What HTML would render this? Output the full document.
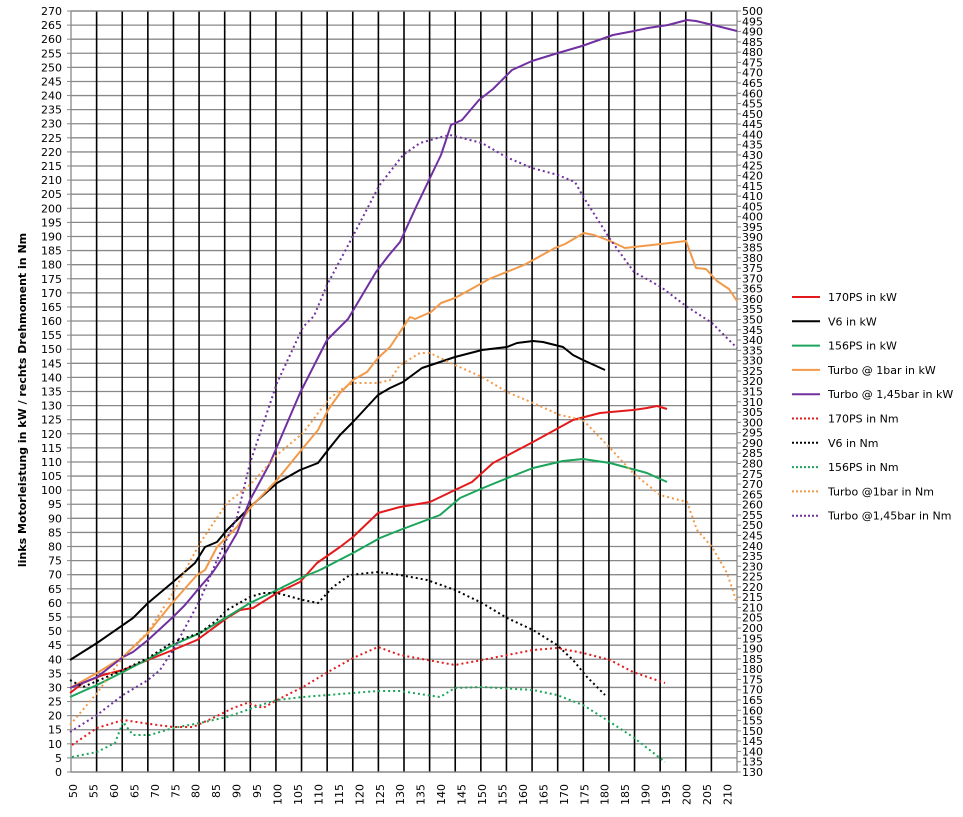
<!DOCTYPE html>
<html><head><meta charset="utf-8"><style>
html,body{margin:0;padding:0;background:#fff;}
svg text{font-family:"DejaVu Sans","Liberation Sans",sans-serif;}
</style></head><body>
<svg id="c" width="963" height="812" xmlns="http://www.w3.org/2000/svg">
<g id="grid"></g>
<g fill="none" stroke-width="2" stroke-linejoin="round">
<polyline stroke="#000" points="70,660 97,643 133,618 148,603 173,582 195,563 205,547 217,542 227,530 250,507 277,483 300,470 318,463 328,450 340,435 353,422 378,395 390,388 403,382 422,368 455,357 482,350 507,347 517,343 533,341 543,342 563,347 573,355 583,360 605,370"/>
<polyline stroke="#e31a1c" points="70,693 83,683 103,675 123,670 148,660 173,650 197,640 227,618 240,610 253,608 277,593 300,582 317,563 340,547 353,537 378,513 400,507 430,502 455,490 472,482 493,463 533,442 573,420 600,413 633,410 647,408 657,406 667,409"/>
<polyline stroke="#1aa55a" points="70,697 97,685 123,672 150,658 173,645 200,633 227,617 250,603 277,590 303,577 320,570 353,553 380,538 400,530 440,515 460,498 483,488 510,477 533,468 563,461 583,459 610,463 647,473 667,482"/>
<polyline stroke="#f29a4a" points="70,688 97,673 123,657 148,633 173,602 197,575 205,570 217,547 237,527 250,508 277,480 303,448 318,430 328,410 340,393 353,380 367,372 378,358 390,347 410,317 415,319 431,312 441,303 455,298 475,287 489,279 524,265 544,254 555,248 565,244 584,233 594,235 610,241 625,248 661,244 686,241 696,268 706,269 717,281 729,289 737,301"/>
<polyline stroke="#7030a0" points="70,688 97,677 123,657 133,652 148,640 173,617 185,605 200,587 213,572 223,557 237,533 250,500 270,463 300,393 327,340 348,319 376,272 389,255 400,242 417,205 429,180 441,155 451,125 462,120 479,100 493,89 512,70 532,61 558,53 582,46 613,35 634,31 648,28 668,25 687,20 696,21 713,25 737,31"/>
</g>
<g fill="none" stroke-width="2" stroke-dasharray="2,3">
<polyline stroke="#7030a0" points="70,732 97,715 123,695 148,680 160,670 173,650 200,600 217,560 237,517 250,463 277,383 303,327 314,316 327,285 353,236 379,186 403,155 420,143 441,137 450,135 482,143 506,157 532,168 558,175 575,182 584,198 610,239 634,272 661,287 686,306 712,323 737,348"/>
<polyline stroke="#f29a4a" points="70,725 97,693 123,657 148,632 173,593 200,543 227,503 250,485 277,455 303,433 328,400 340,390 353,383 378,383 390,380 400,365 420,353 430,353 455,365 482,377 507,392 533,403 560,415 583,420 610,448 633,473 660,495 687,502 697,530 712,547 727,573 737,603"/>
<polyline stroke="#000" points="70,680 83,687 123,670 148,658 173,642 200,633 217,620 227,610 250,597 263,593 277,593 303,600 318,603 333,587 350,575 378,572 400,575 427,580 455,590 482,603 507,618 533,630 557,645 573,660 587,677 605,695"/>
<polyline stroke="#e31a1c" points="72,745 97,728 123,720 150,724 173,727 193,727 213,718 233,708 247,703 263,708 277,700 303,687 328,672 353,658 378,647 400,655 455,665 482,660 533,650 557,648 583,653 610,660 633,672 665,683"/>
<polyline stroke="#1aa55a" points="72,757 97,752 115,743 123,722 133,735 150,735 173,728 200,723 227,717 247,710 267,703 277,700 303,697 353,693 378,691 400,691 440,697 455,688 482,687 533,690 557,695 583,705 610,722 633,737 665,762"/>
</g>
<g id="legend" font-size="11" fill="#000"></g>
<text transform="translate(26,400) rotate(-90)" text-anchor="middle" font-size="11" font-weight="bold">links Motorleistung in kW / rechts Drehmoment in Nm</text>
</svg>
<script>
var ns="http://www.w3.org/2000/svg",g=document.getElementById('grid'),L=document.getElementById('legend');
function el(t,a,p,txt){var e=document.createElementNS(ns,t);for(var k in a)e.setAttribute(k,a[k]);if(txt!==undefined)e.textContent=txt;(p||g).appendChild(e);return e;}
var T=11,B=772,Lx=71,R=737;
for(var i=0;i<=54;i++){var y=B-i*(B-T)/54;el('line',{x1:Lx,x2:R,y1:y,y2:y,stroke:'#888','stroke-width':1.3});
el('text',{x:62,y:y+4,'text-anchor':'end','font-size':11},g,String(i*5));el('line',{x1:Lx-4,x2:Lx,y1:y,y2:y,stroke:'#888'});}
for(var k=1;k<26;k++){var x=Lx+k*(R-Lx)/26;el('line',{x1:x,x2:x,y1:T,y2:B,stroke:'#000','stroke-width':1.6});}
el('rect',{x:Lx,y:T,width:R-Lx,height:B-T,fill:'none',stroke:'#888','stroke-width':1.3});
for(var j=0;j<=74;j++){var y2=B-j*(B-T)/74;el('line',{x1:R,x2:R+4,y1:y2,y2:y2,stroke:'#888'});
el('text',{x:742,y:y2+4,'font-size':11},g,String(130+j*5));}
for(var m=0;m<33;m++){var xx=73+m*20.45;el('text',{transform:'translate('+(xx+4)+',784) rotate(-90)','text-anchor':'end','font-size':11},g,String(50+m*5));}
var leg=[['170PS in kW','#e31a1c',0],['V6 in kW','#000',0],['156PS in kW','#1aa55a',0],['Turbo @ 1bar in kW','#f29a4a',0],['Turbo @ 1,45bar in kW','#7030a0',0],['170PS in Nm','#e31a1c',1],['V6 in Nm','#000',1],['156PS in Nm','#1aa55a',1],['Turbo @1bar in Nm','#f29a4a',1],['Turbo @1,45bar in Nm','#7030a0',1]];
leg.forEach(function(l,i){var y=297+i*24.3;var a={x1:792,x2:820,y1:y,y2:y,stroke:l[1],'stroke-width':2};if(l[2])a['stroke-dasharray']='2,2';el('line',a,L);el('text',{x:828,y:y+4},L,l[0]);});
</script>
</body></html>
